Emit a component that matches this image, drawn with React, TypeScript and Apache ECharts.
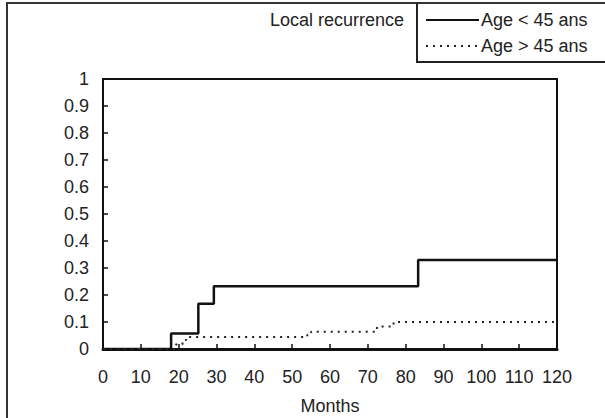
import React, { useEffect, useRef } from "react";
import * as echarts from "echarts";

const xTicks = [0, 10, 20, 30, 40, 50, 60, 70, 80, 90, 100, 110, 120];
const yTicks = [0, 0.1, 0.2, 0.3, 0.4, 0.5, 0.6, 0.7, 0.8, 0.9, 1];

// event times (months) and cumulative incidence levels
const youngTimes = [0, 18, 25.2, 29.3, 83.3, 120];
const youngLevels = [0, 0.057, 0.168, 0.232, 0.33, 0.33];

const oldTimes = [0, 19.2, 21, 22, 54, 55, 72.4, 76.8, 120];
const oldLevels = [0, 0.017, 0.033, 0.044, 0.053, 0.064, 0.083, 0.1, 0.1];

const seriesNames = ["Age < 45 ans", "Age > 45 ans"];
const titleText = "Local recurrence";
const xName = "Months";

export default function App() {
  const ref = useRef<HTMLDivElement>(null);
  useEffect(() => {
    if (!ref.current) return;
    const chart = echarts.init(ref.current, null, { renderer: "svg" });
    const font = "'Liberation Sans', Arial, sans-serif";
    const textColor = "#222";
    const fs = 18;
    chart.setOption({
      animation: false,
      backgroundColor: "#fff",
      textStyle: { fontFamily: font },
      title: {
        text: titleText,
        left: 270,
        top: 11,
        padding: 0,
        textStyle: { fontFamily: font, fontSize: fs, fontWeight: "normal", color: textColor },
      },
      legend: {
        orient: "vertical",
        left: 425,
        top: 11,
        padding: 0,
        itemWidth: 53,
        itemHeight: 16,
        itemGap: 8,
        itemStyle: { opacity: 0, borderWidth: 0 },
        textStyle: { fontFamily: font, fontSize: fs, color: textColor, padding: [0, 0, 0, -3] },
        data: seriesNames,
      },
      grid: {
        left: 103,
        right: 48,
        top: 79,
        bottom: 69,
        outerBoundsMode: "none",
        containLabel: false,
        show: true,
        borderColor: "#111",
        borderWidth: 2,
      },
      xAxis: {
        type: "value",
        min: 0,
        max: 120,
        interval: 10,
        name: xName,
        nameLocation: "middle",
        nameGap: 48,
        nameTextStyle: { fontFamily: font, fontSize: fs, color: textColor, lineHeight: 18 },
        axisLine: { show: true, lineStyle: { color: "#111", width: 3 } },
        axisTick: { show: true, inside: true, length: 5, lineStyle: { color: "#111", width: 1.5 } },
        axisLabel: {
          fontFamily: font,
          fontSize: fs,
          color: textColor,
          margin: 19,
          formatter: (v: number) => (xTicks.includes(v) ? String(v) : ""),
        },
        splitLine: { show: false },
      },
      yAxis: {
        type: "value",
        min: 0,
        max: 1,
        interval: 0.1,
        axisLine: { show: true, lineStyle: { color: "#111", width: 2 } },
        axisTick: { show: true, inside: true, length: 5, lineStyle: { color: "#111", width: 1.5 } },
        axisLabel: {
          fontFamily: font,
          fontSize: fs,
          color: textColor,
          margin: 14,
          formatter: (v: number) => {
            const t = yTicks.find((y) => Math.abs(y - v) < 1e-9);
            return t === undefined ? "" : String(t);
          },
        },
        splitLine: { show: false },
      },
      series: [
        {
          name: seriesNames[0],
          type: "line",
          step: "end",
          symbol: "none",
          lineStyle: { color: "#111", width: 2.5, type: "solid" },
          itemStyle: { color: "#111" },
          data: youngTimes.map((t, i) => [t, youngLevels[i]]),
        },
        {
          name: seriesNames[1],
          type: "line",
          step: "end",
          symbol: "none",
          lineStyle: { color: "#222", width: 2, type: [2, 5] },
          itemStyle: { color: "#222" },
          data: oldTimes.map((t, i) => [t, oldLevels[i]]),
        },
      ],
      graphic: [
        {
          type: "polyline",
          shape: { points: [[7, 418], [7, 3], [605, 3]] },
          style: { stroke: "#333", lineWidth: 2, fill: "none" },
          silent: true,
        },
        {
          type: "polyline",
          shape: { points: [[417, 3], [417, 62], [605, 62]] },
          style: { stroke: "#222", lineWidth: 2, fill: "none" },
          silent: true,
        },
      ],
    });
    return () => chart.dispose();
  }, []);
  return (
    <div
      ref={ref}
      style={{ position: "fixed", left: 0, top: 0, width: 605, height: 418, background: "#fff" }}
    />
  );
}
